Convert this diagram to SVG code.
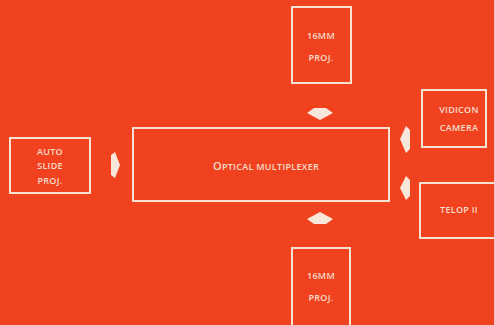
<svg xmlns="http://www.w3.org/2000/svg" width="494" height="325" viewBox="0 0 494 325">
<style>
.box{fill:none;stroke:#f4e2d2;stroke-width:2}
.t{font-family:"Open Sans","Liberation Sans",sans-serif;font-size:9px;font-weight:600;fill:#f6dccb;text-anchor:middle;letter-spacing:0.3px}
.ar{fill:#f7e6da}
</style>
<rect width="494" height="325" fill="#f0421e"/>
<g id="connectors">
<polygon class="ar" points="314,108 326,108 333,113 320,120 307,113"/>
<polygon class="ar" points="320,212 333,219 326,224 314,224 307,219"/>
<polygon class="ar" points="111,155 115,152 120,165 115,178 111,175"/>
<polygon class="ar" points="410,130 406,126 400,139 406,153 410,149"/>
<polygon class="ar" points="410,180 406,176 400,188 406,200 410,196"/>
</g>
<g id="proj-top">
<rect class="box" x="292" y="7" width="59" height="76"/>
<text class="t" x="321" y="39">16MM</text>
<text class="t" x="321" y="61">PROJ.</text>
</g>
<g id="vidicon">
<rect class="box" x="422" y="90" width="64" height="57"/>
<text class="t" x="459" y="113">VIDICON</text>
<text class="t" x="459" y="131">CAMERA</text>
</g>
<g id="telop">
<rect class="box" x="420" y="183" width="80" height="55"/>
<text class="t" x="459" y="213">TELOP II</text>
</g>
<g id="auto-slide">
<rect class="box" x="10" y="138" width="80" height="55"/>
<text class="t" x="50" y="155">AUTO</text>
<text class="t" x="50" y="169">SLIDE</text>
<text class="t" x="50" y="184">PROJ.</text>
</g>
<g id="multiplexer">
<rect class="box" x="133" y="128" width="256" height="73"/>
<text class="t" x="266" y="170"><tspan font-size="11px">O</tspan>PTICAL  MULTIPLEXER</text>
</g>
<g id="proj-bottom">
<rect class="box" x="292" y="248" width="58" height="90"/>
<text class="t" x="321" y="279">16MM</text>
<text class="t" x="321" y="301">PROJ.</text>
</g>
</svg>
